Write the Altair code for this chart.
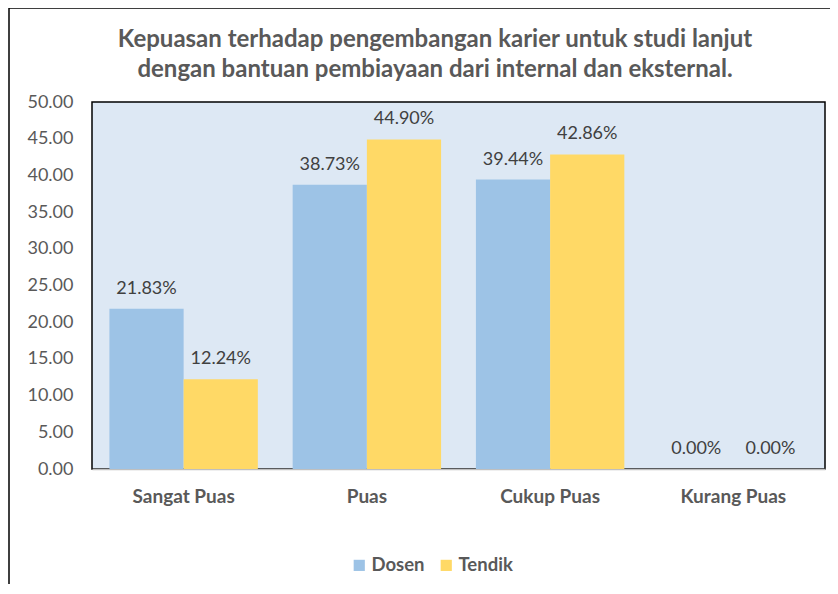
import altair as alt
import pandas as pd

categories = ["Sangat Puas", "Puas", "Cukup Puas", "Kurang Puas"]
series = ["Dosen", "Tendik"]
dosen = [21.83, 38.73, 39.44, 0.00]
tendik = [12.24, 44.90, 42.86, 0.00]
colors = ["#9dc3e6", "#ffd966"]
y_ticks = [0, 5, 10, 15, 20, 25, 30, 35, 40, 45, 50]
title_lines = ["Kepuasan terhadap pengembangan karier untuk  studi lanjut",
               "dengan bantuan pembiayaan dari internal dan eksternal."]

rows = []
for c, d, t in zip(categories, dosen, tendik):
    rows.append({"kategori": c, "seri": "Dosen", "nilai": d})
    rows.append({"kategori": c, "seri": "Tendik", "nilai": t})
df = pd.DataFrame(rows)
df["label"] = df["nilai"].map(lambda v: f"{v:.2f}%")

FONT = "Lato"
GRAY = "#595959"
W, H = 733, 367

x_enc = alt.X("kategori:N", sort=categories, title=None,
              scale=alt.Scale(paddingInner=0.19, paddingOuter=0.095),
              axis=alt.Axis(labelAngle=0, labelFontWeight="bold", labelFontSize=19,
                            labelColor=GRAY, labelFont=FONT, ticks=False, labelPadding=18,
                            domainColor="#bfbfbf", domainWidth=1.5))
y_enc = alt.Y("nilai:Q", title=None,
              scale=alt.Scale(domain=[0, 50], nice=False),
              axis=alt.Axis(values=y_ticks, format=".2f", grid=False, ticks=False,
                            labelFontSize=18, labelColor=GRAY, labelFont=FONT,
                            labelPadding=19, domain=False, labelOverlap=False))
color_enc = alt.Color("seri:N", sort=series,
                      scale=alt.Scale(domain=series, range=colors),
                      legend=alt.Legend(title=None, orient="none", direction="horizontal",
                                        legendX=258, legendY=454,
                                        symbolType="square", symbolSize=125,
                                        symbolStrokeWidth=0,
                                        labelFontSize=18.5, labelFontWeight="bold",
                                        labelColor=GRAY, labelFont=FONT,
                                        columnPadding=12, labelOffset=3))

base = alt.Chart(df)
bars = base.mark_bar().encode(
    x=x_enc,
    xOffset=alt.XOffset("seri:N", sort=series),
    y=y_enc,
    color=color_enc,
)
labels = base.mark_text(dy=-15, baseline="alphabetic", fontSize=18, color="#404040",
                        font=FONT).encode(
    x=x_enc,
    xOffset=alt.XOffset("seri:N", sort=series),
    y=y_enc,
    text="label:N",
)
frame = alt.Chart(pd.DataFrame({"a": [0]})).mark_rect(
    fill=None, stroke="black", strokeWidth=1.5).encode(
    x=alt.value(-83), x2=alt.value(W + 40),
    y=alt.value(-94), y2=alt.value(H + 140),
)


def title_line(txt, ypos):
    return alt.Chart(pd.DataFrame({"t": [txt]})).mark_text(
        fontSize=24, fontWeight="bold", color=GRAY, font=FONT,
        align="center", baseline="alphabetic").encode(
        x=alt.value(343), y=alt.value(ypos), text="t:N")


t1 = title_line(title_lines[0], -55)
t2 = title_line(title_lines[1], -25)

chart = alt.layer(frame, bars, labels, t1, t2).properties(
    width=W, height=H,
    autosize=alt.AutoSizeParams(type="none"),
    padding={"left": 84, "top": 94, "right": 5, "bottom": 115},
).configure_view(fill="#dde8f4", stroke="black", strokeWidth=1.5)

chart.save("out.html", embed_options={"renderer": "svg", "actions": False})
